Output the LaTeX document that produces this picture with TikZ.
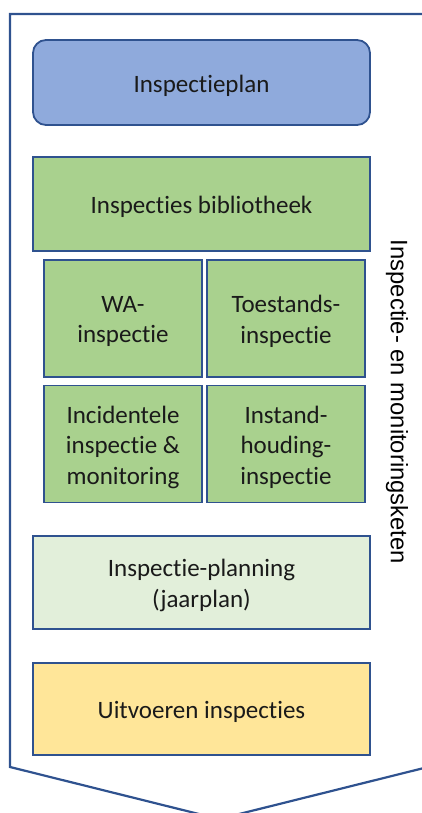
\documentclass[tikz,border=0pt]{standalone}
\usepackage{fontspec}
\setmainfont{Carlito}
\newfontfamily\labelfont{Liberation Sans}
% keep "t" and "i" as separate glyphs (no joined ti form)
\XeTeXinterchartokenstate=1
\newXeTeXintercharclass\tletter
\newXeTeXintercharclass\iletter
\XeTeXcharclass`t=\tletter
\XeTeXcharclass`i=\iletter
\XeTeXinterchartoks\tletter\iletter={\kern0pt }
\definecolor{edge}{HTML}{2F528F}
\definecolor{planblue}{HTML}{8FAADC}
\definecolor{libgreen}{HTML}{A9D18E}
\definecolor{palegreen}{HTML}{E2EFDA}
\definecolor{execyellow}{HTML}{FFE699}
\definecolor{ink}{HTML}{1A1A1A}
\begin{document}
\begin{tikzpicture}[x=1pt,y=-1pt,
  box/.style={draw=edge, line width=1.8pt, inner sep=0pt, outer sep=0pt},
  wide/.style={box, minimum width=337pt},
  half/.style={box, fill=libgreen, minimum width=158pt, minimum height=117pt},
  txt/.style={align=center, text=ink, inner sep=0pt, font=\fontsize{25}{30.5}\selectfont}]
\useasboundingbox (0,0) rectangle (421,813);

% chevron-shaped frame of the chain
\draw[edge, line width=2.2pt, line join=miter]
  (430,14) -- (10,14) -- (10,767) -- (219,819) -- (428,767);

% boxes
\node[wide, fill=planblue, rounded corners=13pt, minimum height=85pt] (plan) at (201.5,82.5) {};
\node[wide, fill=libgreen, minimum height=94pt] (lib) at (201.5,204) {};
\node[half] (wa) at (123,318.5) {};
\node[half] (toe) at (286,318.5) {};
\node[half] (inc) at (123,444) {};
\node[half] (ins) at (286,444) {};
\node[wide, fill=palegreen, minimum height=93pt] (jaar) at (201.5,582.5) {};
\node[wide, fill=execyellow, minimum height=92pt] (exec) at (201.5,709) {};

% box texts, set slightly below the geometric centre
\node[txt] (plan-t) at ([yshift=-3pt]plan.center) {Inspectieplan};
\node[txt] (lib-t) at ([yshift=-3pt]lib.center) {Inspecties bibliotheek};
\node[txt] (wa-t) at ([yshift=-3pt]wa.center) {WA-\\inspectie};
\node[txt] (toe-t) at ([yshift=-3pt]toe.center) {Toestands-\\inspectie};
\node[txt] (inc-t) at ([yshift=-3pt]inc.center) {Incidentele\\inspectie \&\\monitoring};
\node[txt] (ins-t) at ([yshift=-3pt]ins.center) {Instand-\\houding-\\inspectie};
\node[txt] (jaar-t) at ([yshift=-3pt]jaar.center) {Inspectie-planning\\(jaarplan)};
\node[txt] (exec-t) at ([yshift=-3pt]exec.center) {Uitvoeren inspecties};

\node[rotate=-90, font=\labelfont\fontsize{23.8}{28}\selectfont, text=black, inner sep=0pt] (chain) at (397,402) {Inspectie- en monitoringsketen};
\end{tikzpicture}
\end{document}
